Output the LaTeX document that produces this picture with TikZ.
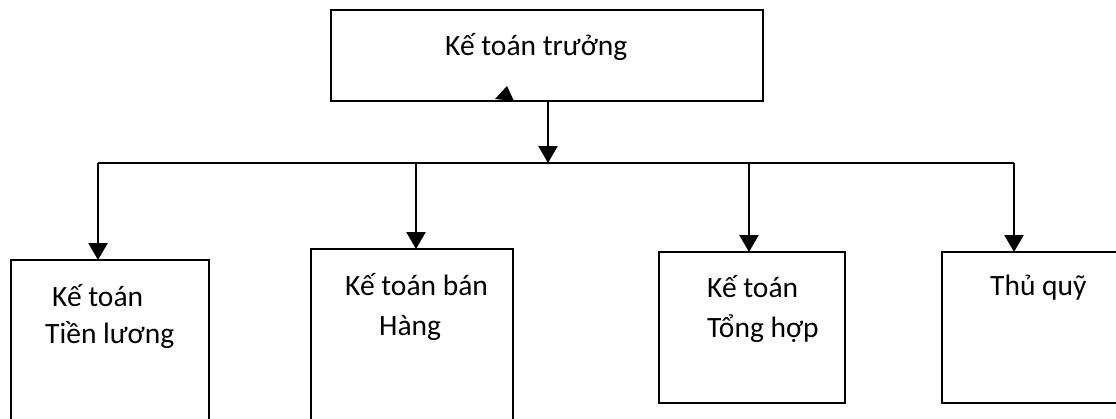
\documentclass[tikz,border=0pt]{standalone}
\usepackage{fontspec}
\setmainfont{Carlito}
\usetikzlibrary{arrows.meta}
\begin{document}
\begin{tikzpicture}[x=1pt,y=-1pt,
  box/.style={draw,line width=2.7pt,rectangle,inner sep=0pt,outer sep=0pt,anchor=north west},
  lbl/.style={anchor=base west,inner sep=0pt,font=\fontsize{29.5}{35}\selectfont},
  wire/.style={line width=2.5pt},
  arr/.style={wire,-{Triangle[width=19pt,length=17pt]}}]
\useasboundingbox (0,0) rectangle (1116,418);
\clip (0,0) rectangle (1116,418);

% boxes
\node[box,minimum width=432pt,minimum height=91pt] (top) at (331,10) {};
\node[box,minimum width=198pt,minimum height=200pt] (b1) at (11,260) {};
\node[box,minimum width=202pt,minimum height=200pt] (b2) at (311,249) {};
\node[box,minimum width=186pt,minimum height=151pt] (b3) at (659,252) {};
\node[box,minimum width=190pt,minimum height=151pt] (b4) at (942,252) {};

% labels
\node[lbl] (t0) at (445,55) {Kế toán trưởng};
\node[lbl] (t1a) at (52,306) {Kế toán};
\node[lbl] (t1b) at (45,343) {Tiền lương};
\node[lbl] (t2a) at (345,295) {Kế toán bán};
\node[lbl] (t2b) at (379,335) {Hàng};
\node[lbl] (t3a) at (707,297) {Kế toán};
\node[lbl] (t3b) at (707,337) {Tổng hợp};
\node[lbl] (t4) at (990,295) {Thủ quỹ};

% distribution bus
\coordinate (busL) at (98,163);
\coordinate (busR) at (1014,163);
\coordinate (busM) at (548,163);
\coordinate (j2) at (416,163);
\coordinate (j3) at (749,163);
\draw[wire] (busL) -- (busR);
\draw[arr] (top.south -| busM) -- (busM);
\draw[arr] (busL) -- (busL |- b1.north);
\draw[arr] (j2) -- (j2 |- b2.north);
\draw[arr] (j3) -- (j3 |- b3.north);
\draw[arr] (busR) -- (busR |- b4.north);

% small arrowhead resting on the top box
\fill (495,99) -- (507,86) -- (514,101) -- cycle;
\end{tikzpicture}
\end{document}
